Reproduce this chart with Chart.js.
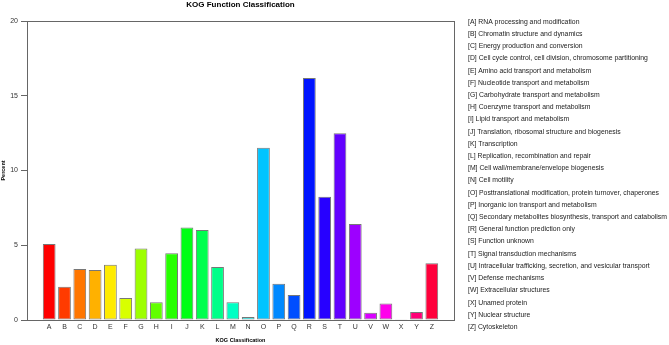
<!DOCTYPE html>
<html><head><meta charset="utf-8">
<script src="https://cdn.jsdelivr.net/npm/chart.js@4/dist/chart.umd.min.js"></script>
<style>html,body{margin:0;padding:0;background:#fff}canvas{display:block}</style>
</head><body>
<canvas id="c" width="669" height="345"></canvas>
<script>
const categories = ['A','B','C','D','E','F','G','H','I','J','K','L','M','N','O','P','Q','R','S','T','U','V','W','X','Y','Z'];
const percents = [5.08, 2.23, 3.41, 3.34, 3.70, 1.47, 4.79, 1.18, 4.46, 6.18, 6.02, 3.55, 1.18, 0.20, 11.53, 2.43, 1.67, 16.19, 8.25, 12.49, 6.42, 0.49, 1.11, 0.05, 0.53, 3.79];
const descriptions = [
  '[A] RNA processing and modification',
  '[B] Chromatin structure and dynamics',
  '[C] Energy production and conversion',
  '[D] Cell cycle control, cell division, chromosome partitioning',
  '[E] Amino acid transport and metabolism',
  '[F] Nucleotide transport and metabolism',
  '[G] Carbohydrate transport and metabolism',
  '[H] Coenzyme transport and metabolism',
  '[I] Lipid transport and metabolism',
  '[J] Translation, ribosomal structure and biogenesis',
  '[K] Transcription',
  '[L] Replication, recombination and repair',
  '[M] Cell wall/membrane/envelope biogenesis',
  '[N] Cell motility',
  '[O] Posttranslational modification, protein turnover, chaperones',
  '[P] Inorganic ion transport and metabolism',
  '[Q] Secondary metabolites biosynthesis, transport and catabolism',
  '[R] General function prediction only',
  '[S] Function unknown',
  '[T] Signal transduction mechanisms',
  '[U] Intracellular trafficking, secretion, and vesicular transport',
  '[V] Defense mechanisms',
  '[W] Extracellular structures',
  '[X] Unamed protein',
  '[Y] Nuclear structure',
  '[Z] Cytoskeleton'
];
const barColors = ['#FF0000','#FF3B00','#FF7600','#FFB100','#FFEB00','#D8FF00','#9DFF00','#62FF00','#27FF00','#00FF14','#00FF4E','#00FF89','#00FFC4','#00FFFF','#00C4FF','#0089FF','#004EFF','#0014FF','#2700FF','#6200FF','#9D00FF','#D800FF','#FF00EB','#FF00B1','#FF0076','#FF003B'];
const yTickValues = [0, 5, 10, 15, 20];

const FONT = "'Liberation Sans', Arial, Helvetica, sans-serif";

const framePlugin = {
  id: 'frame',
  afterDatasetsDraw(chart) {
    const {ctx, chartArea: a} = chart;
    ctx.save();
    ctx.strokeStyle = '#666';
    ctx.lineWidth = 1;
    ctx.strokeRect(Math.round(a.left) + 0.5, Math.round(a.top) + 0.5, Math.round(a.right - a.left), Math.round(a.bottom - a.top));
    ctx.restore();
  }
};

const descPlugin = {
  id: 'descList',
  afterDraw(chart) {
    const {ctx, chartArea: a} = chart;
    ctx.save();
    ctx.font = '6.85px ' + FONT;
    ctx.fillStyle = '#222';
    ctx.textBaseline = 'middle';
    ctx.textAlign = 'left';
    const step = 12.21;
    descriptions.forEach((t, i) => {
      ctx.fillText(t, a.right + 14, a.top + 0.8 + i * step);
    });
    ctx.restore();
  }
};

new Chart(document.getElementById('c'), {
  type: 'bar',
  data: {
    datasets: [{
      data: categories.map((c, i) => ({x: i, y: percents[i]})),
      backgroundColor: barColors,
      borderColor: '#777',
      borderWidth: 1,
      borderSkipped: false,
      barPercentage: 1 / 1.2,
      categoryPercentage: 1
    }]
  },
  options: {
    responsive: false,
    animation: false,
    layout: {padding: {left: 0, top: 0, right: 215, bottom: 0}},
    plugins: {
      legend: {display: false},
      tooltip: {enabled: false},
      title: {
        display: true,
        text: 'KOG Function Classification',
        fullSize: false,
        color: '#000',
        font: {family: FONT, size: 8, weight: 'bold'},
        padding: {top: 0, bottom: 11.4}
      }
    },
    scales: {
      x: {
        type: 'linear',
        min: -1.45,
        max: 26.45,
        offset: false,
        afterBuildTicks(scale) { scale.ticks = categories.map((c, i) => ({value: i})); },
        afterFit(scale) { scale.height = 25; },
        grid: {display: false, drawTicks: false, offset: false},
        border: {display: false},
        ticks: {
          autoSkip: false, maxRotation: 0, padding: 3,
          color: '#333', font: {family: FONT, size: 7},
          callback: (v) => categories[v]
        },
        title: {display: true, text: 'KOG Classification', color: '#000',
          font: {family: FONT, size: 5.5, weight: 'bold'}, padding: {top: 0, bottom: 1}}
      },
      y: {
        min: 0,
        max: 20,
        afterBuildTicks(scale) { scale.ticks = yTickValues.map(v => ({value: v})); },
        afterFit(scale) { scale.width = 27; },
        grid: {display: true, drawOnChartArea: false, drawTicks: true, tickLength: 6, color: '#666'},
        border: {display: false},
        ticks: {padding: 3, color: '#333', font: {family: FONT, size: 7}},
        title: {display: true, text: 'Percent', color: '#000',
          font: {family: FONT, size: 5.5, weight: 'bold'}, padding: 0}
      }
    }
  },
  plugins: [framePlugin, descPlugin]
});
</script>
</body></html>
